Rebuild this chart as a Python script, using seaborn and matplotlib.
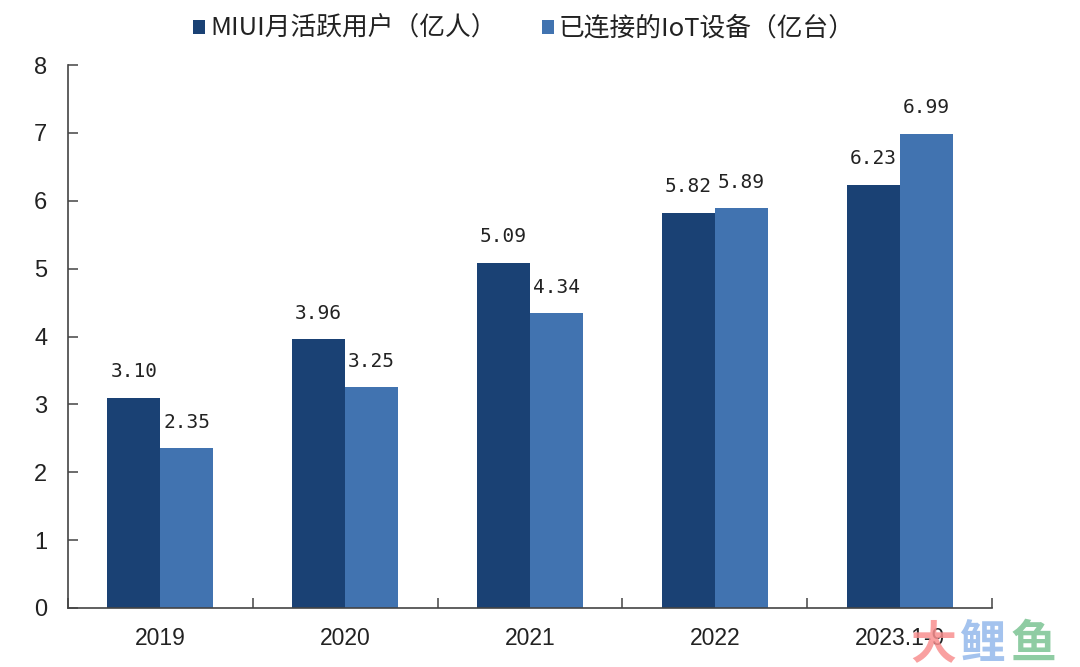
import pandas as pd
import matplotlib.pyplot as plt
import seaborn as sns

years = ['2019', '2020', '2021', '2022', '2023.1-9']
miui_users = [3.10, 3.96, 5.09, 5.82, 6.23]
iot_devices = [2.35, 3.25, 4.34, 5.89, 6.99]
miui_name = 'MIUI月活跃用户（亿人）'
iot_name = '已连接的IoT设备（亿台）'

sns.set_theme(style='ticks')
plt.rcParams['font.family'] = ['Noto Sans CJK SC', 'DejaVu Sans']

df = pd.DataFrame({'year': years * 2,
                   'value': miui_users + iot_devices,
                   'series': [miui_name] * 5 + [iot_name] * 5})

fig = plt.figure(figsize=(10.8, 6.67), dpi=100)
ax = fig.add_axes([68 / 1080, 1 - 608 / 667, 924 / 1080, 543 / 667])

sns.barplot(data=df, x='year', y='value', hue='series', order=years,
            palette=['#1a4174', '#4173b0'], width=0.574, gap=0,
            saturation=1, linewidth=0, ax=ax)

ax.set_xlim(-0.5, 4.5)
ax.set_ylim(0, 8)
ax.set_xlabel('')
ax.set_ylabel('')

# ticks point inwards, one at each edge between the groups
ax.set_xticks([i - 0.5 for i in range(6)], minor=False)
ax.set_xticklabels([])
ax.set_xticks(range(5), labels=years, minor=True)
ax.tick_params(axis='x', which='major', direction='in', length=7, width=1.1, color='#444444')
ax.tick_params(axis='x', which='minor', length=0, pad=14, labelsize=16.5, labelcolor='#222222')
ax.tick_params(axis='y', direction='in', length=7, width=1.1, color='#444444', pad=15,
               labelsize=17, labelcolor='#222222')
for lab in ax.get_xticklabels(minor=True) + ax.get_yticklabels():
    lab.set_fontfamily(['Liberation Sans', 'Noto Sans CJK SC'])

sns.despine(ax=ax)
for side in ['left', 'bottom']:
    ax.spines[side].set_linewidth(1.2)
    ax.spines[side].set_color('#444444')

for container in ax.containers:
    ax.bar_label(container, fmt='%.2f', padding=12, fontsize=14, color='#222222',
                 family=['DejaVu Sans Mono'])

leg = ax.legend(loc='center', bbox_to_anchor=(524 / 1080, 1 - 29 / 667),
                bbox_transform=fig.transFigure, ncol=2, frameon=False, fontsize=18.5,
                handlelength=0.47, handleheight=0.47, handletextpad=0.2, columnspacing=1.75,
                borderpad=0, title=None)
for text in leg.get_texts():
    text.set_color('#222222')

# watermark in the lower right corner
fig.text(910 / 1080, 1 - 645 / 667, '大', fontsize=33, color='#f88f8f', alpha=0.85,
         ha='left', va='center', fontweight='bold')
fig.text(959 / 1080, 1 - 645 / 667, '鲤', fontsize=33, color='#a4c3ee',
         ha='left', va='center', fontweight='bold')
fig.text(1011 / 1080, 1 - 645 / 667, '鱼', fontsize=33, color='#8fcca3',
         ha='left', va='center', fontweight='bold')

fig.savefig('out.png', dpi=100)
